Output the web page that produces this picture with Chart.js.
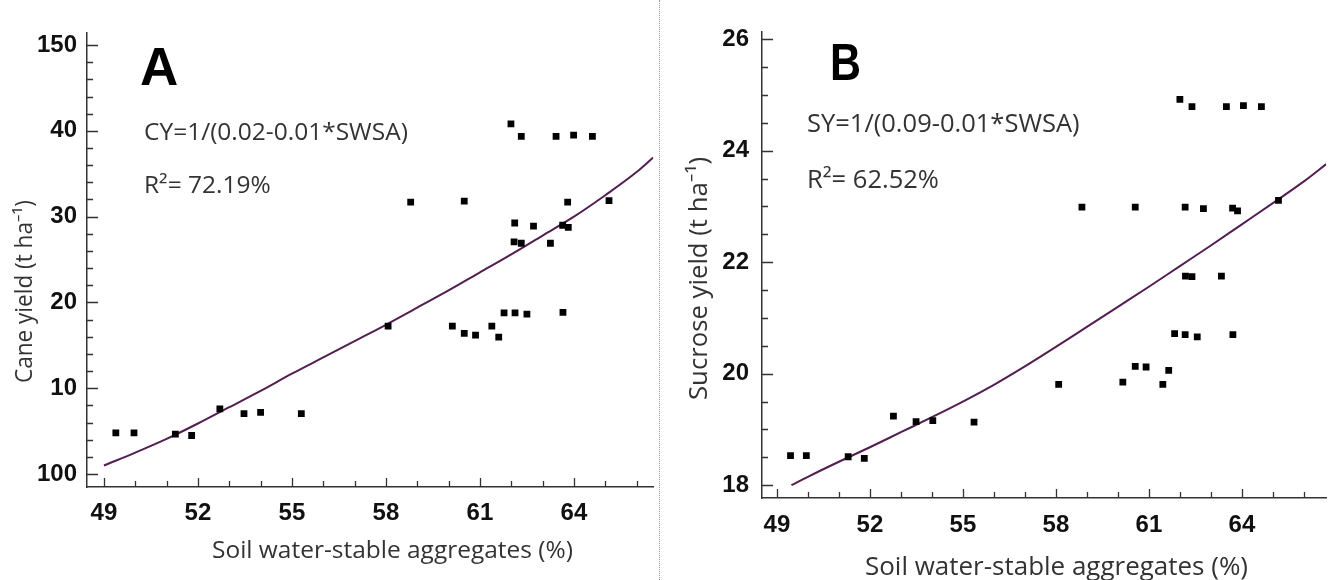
<!DOCTYPE html>
<html lang="en">
<head>
<meta charset="UTF-8">
<title>Yield vs soil water-stable aggregates</title>
<script src="https://cdn.jsdelivr.net/npm/chart.js"></script>
<style>
    body {
        margin: 0;
        width: 1331px;
        height: 580px;
        overflow: hidden;
        background: #fff;
        position: relative;
    }
    #chartA { position: absolute; left: 0; top: 0; }
    #chartB { position: absolute; left: 660px; top: 0; }
    .sep {
        position: absolute;
        left: 659px;
        top: 0;
        height: 580px;
        border-left: 1px dotted #999;
    }
</style>
</head>
<body>
<canvas id="chartA" width="658" height="580"></canvas>
<div class="sep"></div>
<canvas id="chartB" width="671" height="580"></canvas>

<script>
// Panel A - cane yield
const swsaA = [49.38, 49.96, 51.28, 51.80, 52.70, 53.47, 54.00, 55.30, 58.07, 60.12, 60.50, 60.86,
               61.38, 61.60, 61.77, 62.12, 62.50, 63.65, 61.99, 62.32, 63.43, 63.99, 64.59, 58.79,
               60.50, 63.80, 65.12, 62.11, 62.71, 63.64, 63.82, 62.09, 62.32, 63.25];
const cyA = [4.8, 4.8, 4.65, 4.5, 7.6, 7.05, 7.2, 7.05, 17.25, 17.25, 16.4, 16.2,
             17.25, 15.97, 18.8, 18.8, 18.65, 18.85, 40.8, 39.35, 39.35, 39.5, 39.35, 31.7,
             31.8, 31.7, 31.86, 29.26, 28.9, 29.0, 28.76, 27.06, 26.9, 26.9];
const fitXA = [49, 50, 51, 52, 53, 54, 55, 56, 57, 58, 59, 60, 61, 62, 63, 64, 65, 66, 66.53];
const fitYA = [1.0, 2.5, 4.1, 5.9, 7.8, 9.7, 11.7, 13.6, 15.5, 17.4, 19.4, 21.4, 23.5, 25.6, 27.8, 30.0, 32.5, 35.2, 36.9];
const yTicksA = [0, 10, 20, 30, 40, 50];
const yLabelsA = ['100', '10', '20', '30', '40', '150'];

// Panel B - sucrose yield
const swsaB = [49.44, 49.95, 51.30, 51.82, 52.76, 53.49, 54.03, 55.36, 58.09, 60.16, 60.56, 60.91,
               61.45, 61.64, 61.83, 62.17, 62.56, 63.71, 62.00, 62.39, 63.50, 64.05, 64.63, 58.84,
               60.56, 62.17, 62.76, 63.70, 63.86, 65.18, 62.18, 62.39, 63.34];
const syB = [18.53, 18.53, 18.51, 18.48, 19.24, 19.14, 19.16, 19.13, 19.81, 19.85, 20.13, 20.12,
             19.81, 20.06, 20.72, 20.70, 20.66, 20.70, 24.92, 24.79, 24.79, 24.81, 24.79, 22.99,
             22.99, 22.99, 22.96, 22.97, 22.92, 23.11, 21.75, 21.74, 21.75];
const fitXB = [49.47, 50, 51, 52, 53, 54, 55, 56, 57, 58, 59, 60, 61, 62, 63, 64, 65, 66, 66.72];
const fitYB = [18.0, 18.15, 18.42, 18.68, 18.95, 19.22, 19.5, 19.8, 20.13, 20.48, 20.84, 21.2, 21.56, 21.93, 22.3, 22.68, 23.06, 23.45, 23.76];
const yTicksB = [18, 20, 22, 24, 26];

const xTicks = [49, 52, 55, 58, 61, 64];

const tickFont = { family: 'Liberation Sans', weight: 'bold', size: 24 };
const textFont = '"Open Sans", "Noto Sans", sans-serif';

// ticks drawn inside the plot, major + minor
const innerTicks = {
    id: 'innerTicks',
    afterDraw(chart, args, o) {
        const { ctx, chartArea: a, scales } = chart;
        ctx.save();
        ctx.strokeStyle = '#333';
        ctx.lineWidth = 1.3;
        ctx.beginPath();
        for (let i = 0; ; i++) {
            const v = o.xFrom + i * o.xStep;
            if (v > scales.x.max) break;
            const px = Math.round(scales.x.getPixelForValue(v)) + 0.5;
            const len = i % o.xEvery === 0 ? 9 : 6;
            ctx.moveTo(px, a.bottom);
            ctx.lineTo(px, a.bottom - len);
        }
        for (let i = 0; ; i++) {
            const v = o.yFrom + i * o.yStep;
            if (v > scales.y.max) break;
            const py = Math.round(scales.y.getPixelForValue(v)) + 0.5;
            const len = i % o.yEvery === 0 ? 11 : 6;
            ctx.moveTo(a.left, py);
            ctx.lineTo(a.left + len, py);
        }
        ctx.stroke();
        ctx.restore();
    }
};

// panel letters, equations and axis titles
const panelText = {
    id: 'panelText',
    afterDraw(chart, args, o) {
        const ctx = chart.ctx;
        o.items.forEach(t => {
            ctx.save();
            ctx.font = t.font;
            ctx.fillStyle = t.color || '#333';
            ctx.textBaseline = 'alphabetic';
            ctx.translate(t.x, t.y);
            if (t.rotate) ctx.rotate(t.rotate);
            ctx.fillText(t.text, 0, 0, t.maxWidth);
            ctx.restore();
        });
    }
};

function makeChart(id, cfg) {
    return new Chart(document.getElementById(id), {
        type: 'scatter',
        data: {
            datasets: [{
                data: cfg.px.map((x, i) => ({ x, y: cfg.py[i] })),
                pointStyle: 'rect',
                pointRadius: 4.8,
                backgroundColor: '#000',
                borderWidth: 0
            }, {
                data: cfg.fx.map((x, i) => ({ x, y: cfg.fy[i] })),
                showLine: true,
                cubicInterpolationMode: 'monotone',
                pointRadius: 0,
                borderColor: '#521f50',
                borderWidth: 2
            }]
        },
        options: {
            responsive: false,
            animation: false,
            devicePixelRatio: 1,
            layout: { padding: { top: cfg.top, right: 0, bottom: 0, left: 0 } },
            plugins: {
                legend: { display: false },
                tooltip: { enabled: false },
                innerTicks: cfg.minor,
                panelText: { items: cfg.texts }
            },
            scales: {
                x: {
                    type: 'linear',
                    min: cfg.xMin,
                    max: cfg.xMax,
                    afterBuildTicks: s => { s.ticks = xTicks.map(v => ({ value: v })); },
                    afterFit: s => { s.height = cfg.xH; },
                    grid: { display: false, drawTicks: false },
                    border: { display: true, color: '#333', width: 1.5 },
                    ticks: { padding: cfg.xPad, color: '#111', font: tickFont, maxRotation: 0, autoSkip: false }
                },
                y: {
                    type: 'linear',
                    min: cfg.yMin,
                    max: cfg.yMax,
                    afterBuildTicks: s => { s.ticks = cfg.yTicks.map(v => ({ value: v })); },
                    afterFit: s => { s.width = cfg.yW; },
                    grid: { display: false, drawTicks: false },
                    border: { display: true, color: '#333', width: 1.5 },
                    ticks: {
                        padding: cfg.yPad, color: '#111', font: tickFont, autoSkip: false,
                        callback: v => cfg.yLabels ? cfg.yLabels[cfg.yTicks.indexOf(v)] : v
                    }
                }
            }
        },
        plugins: [innerTicks, panelText]
    });
}

makeChart('chartA', {
    px: swsaA, py: cyA, fx: fitXA, fy: fitYA,
    xMin: 48.46, xMax: 66.53, yMin: -1.5, yMax: 51.4,
    yTicks: yTicksA, yLabels: yLabelsA,
    top: 33, xH: 93, yW: 87, xPad: 12, yPad: 10,
    minor: { xFrom: 49, xStep: 1, xEvery: 3, yFrom: 0, yStep: 2, yEvery: 5 },
    texts: [
        { text: 'A', x: 140, y: 85, font: 'bold 53px "Liberation Sans"', color: '#000' },
        { text: 'CY=1/(0.02-0.01*SWSA)', x: 144, y: 140, font: '24.5px ' + textFont, maxWidth: 273 },
        { text: 'R²= 72.19%', x: 144, y: 193, font: '24.5px ' + textFont, maxWidth: 129 },
        { text: 'Soil water-stable aggregates (%)', x: 212, y: 558, font: '24.5px ' + textFont, maxWidth: 361 },
        { text: 'Cane yield (t ha⁻¹)', x: 32, y: 383, rotate: -Math.PI / 2, font: '23px ' + textFont, maxWidth: 183 }
    ]
});

makeChart('chartB', {
    px: swsaB, py: syB, fx: fitXB, fy: fitYB,
    xMin: 48.52, xMax: 66.72, yMin: 17.77, yMax: 26.13,
    yTicks: yTicksB, yLabels: null,
    top: 32, xH: 82, yW: 102, xPad: 13, yPad: 13,
    minor: { xFrom: 49, xStep: 1, xEvery: 3, yFrom: 18, yStep: 0.5, yEvery: 4 },
    texts: [
        { text: 'B', x: 170, y: 80, font: 'bold 52px "Liberation Sans"', color: '#000', maxWidth: 31 },
        { text: 'SY=1/(0.09-0.01*SWSA)', x: 147, y: 132, font: '25.5px ' + textFont, maxWidth: 291 },
        { text: 'R²= 62.52%', x: 147, y: 188, font: '25.5px ' + textFont, maxWidth: 140 },
        { text: 'Soil water-stable aggregates (%)', x: 205, y: 575, font: '26px ' + textFont, maxWidth: 383 },
        { text: 'Sucrose yield (t ha⁻¹)', x: 47, y: 400, rotate: -Math.PI / 2, font: '26px ' + textFont, maxWidth: 243 }
    ]
});
</script>
</body>
</html>
